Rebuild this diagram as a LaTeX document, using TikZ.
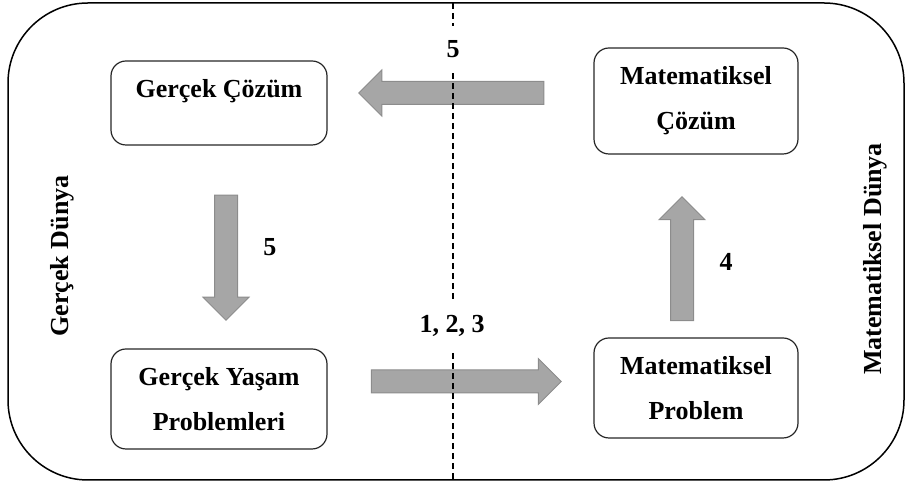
\documentclass[tikz,border=0pt]{standalone}
\usepackage{fontspec}
\setmainfont{Liberation Serif}
\usetikzlibrary{shapes.arrows}

\tikzset{
    kutu/.style={draw=black!85, line width=0.6pt, rounded corners=7.5pt, align=center,
        font=\fontsize{13}{22.5}\selectfont\bfseries},
    yazi/.style={font=\fontsize{13}{15}\selectfont\bfseries},
    blokok/.style={single arrow, draw=black!45, fill=black!35, line width=0.5pt,
        inner sep=5.5pt, single arrow head extend=5.75pt, single arrow tip angle=90},
}

\begin{document}
\begin{tikzpicture}[x=0.5pt, y=-0.5pt]
    \useasboundingbox (0,0) rectangle (907,485);
    \draw[line width=0.75pt, rounded corners=40pt] (8,3) rectangle (904,480);

    \node[kutu, minimum width=108pt, minimum height=42pt, text height=9pt, text depth=14pt] (gcoz) at (219,103) {Gerçek Çözüm};
    \node[kutu, minimum width=102pt, minimum height=53pt] (mcoz) at (696,101) {Matematiksel\\Çözüm};
    \node[kutu, minimum width=108pt, minimum height=50pt] (gyp) at (219,399) {Gerçek Yaşam\\Problemleri};
    \node[kutu, minimum width=102pt, minimum height=50pt] (mprob) at (696,388) {Matematiksel\\Problem};

    \node[blokok, minimum height=92.5pt, shape border rotate=180] (ok5a) at (457,93) {};
    \node[blokok, minimum height=62.5pt, shape border rotate=270] (ok5b) at (226,252) {};
    \node[blokok, minimum height=95pt] (ok123) at (460.5,381.5) {};
    \node[blokok, minimum height=62pt, shape border rotate=90] (ok4) at (682,264.5) {};

    \coordinate (ust) at (453,3);
    \coordinate (alt) at (453,480);
    \draw[line width=0.6pt, dash pattern=on 3pt off 2pt] (ust) -- (alt);

    \node[yazi, fill=white, inner ysep=7.5pt, anchor=base] (n5a) at (453,58) {5};
    \node[yazi, anchor=base] (n5b) at (270,256) {5};
    \node[yazi, fill=white, inner ysep=7pt, anchor=base] (n123) at (452,333) {1, 2, 3};
    \node[yazi, anchor=base] (n4) at (726,271) {4};

    \node[yazi, rotate=90] (gdunya) at (62,256) {Gerçek Dünya};
    \node[yazi, rotate=90] (mdunya) at (875,259) {Matematiksel Dünya};
\end{tikzpicture}
\end{document}
